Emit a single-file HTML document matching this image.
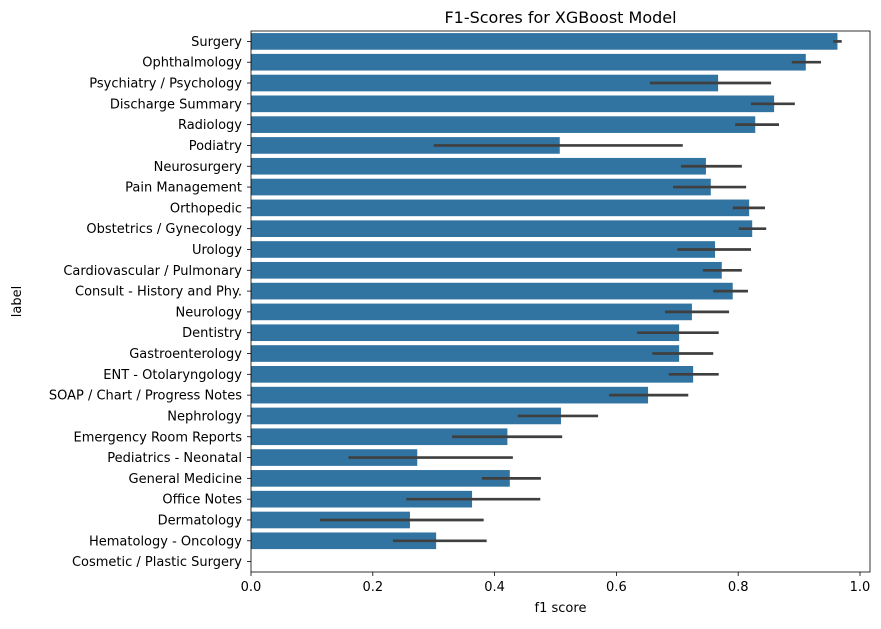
<!DOCTYPE html>
<html><head><meta charset="utf-8"><style>
body{margin:0;background:#fff;font-family:"Liberation Sans","DejaVu Sans",sans-serif}
</style></head><body>
<svg id="chart" width="881" height="624" xmlns="http://www.w3.org/2000/svg" font-family="DejaVu Sans, Liberation Sans, sans-serif"></svg>
<script>
const categories=["Surgery","Ophthalmology","Psychiatry / Psychology","Discharge Summary","Radiology","Podiatry","Neurosurgery","Pain Management","Orthopedic","Obstetrics / Gynecology","Urology","Cardiovascular / Pulmonary","Consult - History and Phy.","Neurology","Dentistry","Gastroenterology","ENT - Otolaryngology","SOAP / Chart / Progress Notes","Nephrology","Emergency Room Reports","Pediatrics - Neonatal","General Medicine","Office Notes","Dermatology","Hematology - Oncology","Cosmetic / Plastic Surgery"];
const f1Values=[0.963,0.911,0.767,0.859,0.828,0.507,0.747,0.755,0.818,0.823,0.762,0.773,0.791,0.724,0.703,0.703,0.726,0.652,0.509,0.421,0.273,0.425,0.363,0.261,0.304,0];
const ciLow=[0.956,0.888,0.655,0.821,0.795,0.300,0.706,0.693,0.791,0.801,0.700,0.742,0.759,0.680,0.634,0.659,0.686,0.588,0.438,0.330,0.160,0.379,0.255,0.113,0.233,0];
const ciHigh=[0.970,0.936,0.854,0.893,0.867,0.709,0.806,0.813,0.844,0.846,0.821,0.806,0.816,0.785,0.768,0.759,0.768,0.718,0.570,0.511,0.430,0.476,0.475,0.382,0.387,0];
const xTicks=[0,0.2,0.4,0.6,0.8,1.0];
const xTickLabels=["0.0","0.2","0.4","0.6","0.8","1.0"];

const svg=document.getElementById('chart');
const NS="http://www.w3.org/2000/svg";
const L=251,R=870,T=31,B=572;
const xScale=v=>L+v*609;
const band=(B-T)/categories.length;
const yCenter=i=>T+band*(i+0.5);
function mk(tag,attrs,text){const e=document.createElementNS(NS,tag);for(const k in attrs)e.setAttribute(k,attrs[k]);if(text!==undefined)e.textContent=text;svg.appendChild(e);return e;}

categories.forEach((c,i)=>{
  const y=yCenter(i),h=band*0.8;
  const bar=mk('rect',{x:L,y:y-h/2,width:xScale(f1Values[i])-L,height:h,fill:'#3274a1'});
  
  
  if(ciHigh[i]>ciLow[i]){
    const err=mk('line',{x1:xScale(ciLow[i]),x2:xScale(ciHigh[i]),y1:y,y2:y,stroke:'#3f3f3f','stroke-width':2.7});
    
    
  }
  mk('line',{x1:L-4,x2:L,y1:y,y2:y,stroke:'#000','stroke-width':0.8});
  const t=mk('text',{x:L-9,y:y+4.5,'text-anchor':'end','font-size':13,fill:'#000'},c);
  
  
});
xTicks.forEach((v,i)=>{
  const x=xScale(v);
  mk('line',{x1:x,x2:x,y1:B,y2:B+4,stroke:'#000','stroke-width':0.8});
  const t=mk('text',{x:x,y:B+19,'text-anchor':'middle','font-size':13,fill:'#000'},xTickLabels[i]);
  
  
});
const frame=mk('rect',{x:L,y:T,width:R-L,height:B-T,fill:'none',stroke:'#000','stroke-width':0.8});


const title=mk('text',{x:(L+R)/2,y:23,'text-anchor':'middle','font-size':16,fill:'#000'},'F1-Scores for XGBoost Model');


const xl=mk('text',{x:(L+R)/2,y:612,'text-anchor':'middle','font-size':13,fill:'#000'},'f1 score');


const yl=mk('text',{x:0,y:0,'text-anchor':'middle','font-size':13,fill:'#000',transform:'translate(21,'+((T+B)/2)+') rotate(-90)'},'label');


</script>
</body></html>
